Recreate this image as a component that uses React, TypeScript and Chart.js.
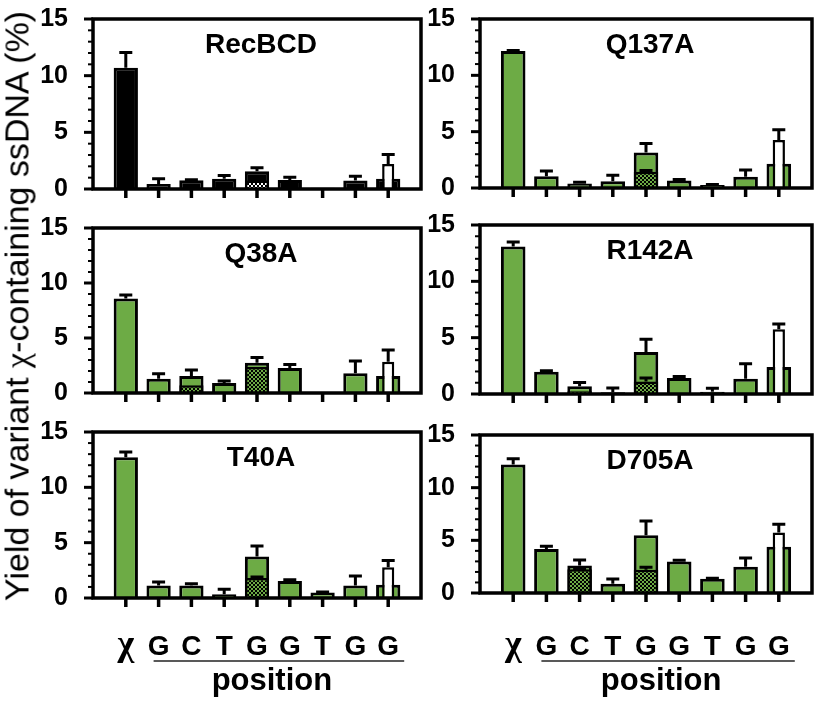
import React, { useEffect, useRef } from 'react';
import { Chart, registerables } from 'chart.js';

Chart.register(...registerables);

// ---------- data ----------
const positions = ['χ', 'G', 'C', 'T', 'G', 'G', 'T', 'G', 'G'];
const panelTitles = ['RecBCD', 'Q137A', 'Q38A', 'R142A', 'T40A', 'D705A'];
const yTicks = [0, 5, 10, 15];

const recbcdMean = [10.7, 0.45, 0.77, 0.9, 1.57, 0.8, 0.1, 0.74, 0.9];
const recbcdSD = [1.35, 0.45, 0.05, 0.3, 0.3, 0.24, 0, 0.39, null];
const recbcdChecker = [null, null, null, null, 0.75, null, null, null, null];
const recbcdCheckerSD = [null, null, null, null, 0, null, null, null, null];
const recbcdWhite = [null, null, null, null, null, null, null, null, 2.2];
const recbcdWhiteSD = [null, null, null, null, null, null, null, null, 0.85];

const q137aMean = [12.15, 1.05, 0.4, 0.6, 3.15, 0.66, 0.27, 1.0, 2.16];
const q137aSD = [0.05, 0.45, 0.1, 0.54, 0.81, 0.09, 0.03, 0.6, null];
const q137aChecker = [null, null, null, null, 1.44, null, null, null, null];
const q137aCheckerSD = [null, null, null, null, 0.12, null, null, null, null];
const q137aWhite = [null, null, null, null, null, null, null, null, 4.26];
const q137aWhiteSD = [null, null, null, null, null, null, null, null, 0.9];

const q38aMean = [8.6, 1.3, 1.54, 0.92, 2.74, 2.28, 0.1, 1.8, 1.54];
const q38aSD = [0.3, 0.45, 0.56, 0.16, 0.49, 0.32, 0, 1.1, null];
const q38aChecker = [null, null, 0.7, null, 2.37, null, null, null, null];
const q38aCheckerSD = [null, null, 0, null, 0, null, null, null, null];
const q38aWhite = [null, null, null, null, null, null, null, null, 2.83];
const q38aWhiteSD = [null, null, null, null, null, null, null, null, 1.07];

const r142aMean = [13.1, 1.98, 0.68, 0.15, 3.72, 1.42, 0.2, 1.36, 2.39];
const r142aSD = [0.4, 0.08, 0.35, 0.38, 1.15, 0.14, 0.3, 1.32, null];
const r142aChecker = [null, null, 0.25, null, 1.12, null, null, null, null];
const r142aCheckerSD = [null, null, 0, null, 0.3, null, null, null, null];
const r142aWhite = [null, null, null, null, null, null, null, null, 5.75];
const r142aWhiteSD = [null, null, null, null, null, null, null, null, 0.47];

const t40aMean = [12.72, 1.14, 1.14, 0.33, 3.74, 1.53, 0.5, 1.14, 1.2];
const t40aSD = [0.48, 0.3, 0.15, 0.45, 0.96, 0.12, 0.05, 0.84, null];
const t40aChecker = [null, null, null, null, 1.8, null, null, null, null];
const t40aCheckerSD = [null, null, null, null, 0.1, null, null, null, null];
const t40aWhite = [null, null, null, null, null, null, null, null, 2.78];
const t40aWhiteSD = [null, null, null, null, null, null, null, null, 0.6];

const d705aMean = [12.2, 4.17, 2.6, 0.88, 5.49, 2.98, 1.35, 2.5, 4.39];
const d705aSD = [0.55, 0.28, 0.53, 0.44, 1.34, 0.12, 0.05, 0.82, null];
const d705aChecker = [null, null, 2.26, null, 2.2, null, null, null, null];
const d705aCheckerSD = [null, null, 0.05, null, 0.25, null, null, null, null];
const d705aWhite = [null, null, null, null, null, null, null, null, 5.74];
const d705aWhiteSD = [null, null, null, null, null, null, null, null, 0.78];

// ---------- style ----------
const GREEN = '#6dab45';
const FONT = '"Liberation Sans", Arial, Helvetica, sans-serif';
const SERIF = '"Liberation Serif", "DejaVu Serif", serif';

const seriesByPanel = [
  [recbcdMean, recbcdSD, recbcdChecker, recbcdCheckerSD, recbcdWhite, recbcdWhiteSD],
  [q137aMean, q137aSD, q137aChecker, q137aCheckerSD, q137aWhite, q137aWhiteSD],
  [q38aMean, q38aSD, q38aChecker, q38aCheckerSD, q38aWhite, q38aWhiteSD],
  [r142aMean, r142aSD, r142aChecker, r142aCheckerSD, r142aWhite, r142aWhiteSD],
  [t40aMean, t40aSD, t40aChecker, t40aCheckerSD, t40aWhite, t40aWhiteSD],
  [d705aMean, d705aSD, d705aChecker, d705aCheckerSD, d705aWhite, d705aWhiteSD],
];

// layout: [axisX, rightX, top, bottom, yAxisWidth]
const panelBoxes = [
  [93, 421, 19, 189, 58],
  [480, 812, 19, 188, 52],
  [93, 421, 228, 393, 58],
  [480, 812, 225, 394, 52],
  [93, 421, 432, 598, 58],
  [480, 812, 435, 593, 52],
];
// page y of bottom texts: letters baseline, underline, "position" baseline
const LETTER_Y = 655;
const RULE_Y = 661;
const POSITION_Y = 690;

function makePattern(base: string, dot: string) {
  const c = document.createElement('canvas');
  c.width = 4;
  c.height = 4;
  const g = c.getContext('2d')!;
  g.fillStyle = base;
  g.fillRect(0, 0, 4, 4);
  g.fillStyle = dot;
  g.fillRect(0, 0, 2, 2);
  g.fillRect(2, 2, 2, 2);
  return g.createPattern(c, 'repeat');
}

const pad = (a: (number | null)[]) => [null, ...a, null];

const errorBarPlugin = {
  id: 'errbars',
  afterDatasetDraw(chart: any, args: any) {
    const ds = chart.data.datasets[args.index];
    const errs = ds.errors;
    if (!errs) return;
    const ys = chart.scales.y;
    const ctx = chart.ctx;
    ctx.save();
    ctx.strokeStyle = '#000';
    ctx.lineWidth = 3;
    ctx.lineCap = 'butt';
    args.meta.data.forEach((el: any, i: number) => {
      const v = ds.data[i];
      const e = errs[i];
      if (v == null || e == null || e <= 0) return;
      const top = ys.getPixelForValue(v + e);
      ctx.beginPath();
      ctx.moveTo(el.x, el.y);
      ctx.lineTo(el.x, top);
      ctx.moveTo(el.x - 6.5, top);
      ctx.lineTo(el.x + 6.5, top);
      ctx.stroke();
    });
    ctx.restore();
  },
};

const framePlugin = {
  id: 'frame',
  afterDraw(chart: any, _args: any, opts: any) {
    const ctx = chart.ctx;
    const a = chart.chartArea;
    const ys = chart.scales.y;
    const xs = chart.scales.x;
    ctx.save();
    ctx.strokeStyle = '#000';
    ctx.lineWidth = 3.5;
    ctx.strokeRect(a.left, a.top, a.right - a.left, a.bottom - a.top);
    // y ticks
    for (let v = 0; v <= 15; v += 1) {
      const y = ys.getPixelForValue(v);
      const major = yTicks.includes(v);
      ctx.lineWidth = major ? 3 : 2;
      ctx.beginPath();
      ctx.moveTo(a.left, y);
      ctx.lineTo(a.left - (major ? 9 : 5), y);
      ctx.stroke();
    }
    // x ticks
    ctx.lineWidth = 3.5;
    for (let i = 1; i <= positions.length; i++) {
      const x = xs.getPixelForValue(i);
      ctx.beginPath();
      ctx.moveTo(x, a.bottom);
      ctx.lineTo(x, a.bottom + 9);
      ctx.stroke();
    }
    // title
    ctx.fillStyle = '#000';
    ctx.font = `bold 28px ${FONT}`;
    ctx.textAlign = 'center';
    ctx.textBaseline = 'middle';
    ctx.fillText(opts.title, (a.left + a.right) / 2 + 4, a.top + 26);
    // x labels
    if (opts.showX) {
      const off = opts.canvasTop;
      ctx.textBaseline = 'alphabetic';
      for (let i = 1; i <= positions.length; i++) {
        const x = xs.getPixelForValue(i);
        const lab = positions[i - 1];
        ctx.font = lab === 'χ' ? `bold 36px ${SERIF}` : `bold 28px ${FONT}`;
        ctx.fillText(lab, x, LETTER_Y - off);
      }
      const x1 = xs.getPixelForValue(2) - 5;
      const x2 = xs.getPixelForValue(positions.length) + 16;
      ctx.lineWidth = 1.6;
      ctx.strokeStyle = '#222';
      ctx.beginPath();
      ctx.moveTo(x1, RULE_Y - off);
      ctx.lineTo(x2, RULE_Y - off);
      ctx.stroke();
      ctx.font = `bold 31px ${FONT}`;
      ctx.fillText('position', (x1 + x2) / 2 - 7, POSITION_Y - off);
    }
    ctx.restore();
  },
};

function Panel({ idx }: { idx: number }) {
  const ref = useRef<HTMLCanvasElement>(null);
  const [axisX, rightX, top, bottom, yW] = panelBoxes[idx];
  const showX = idx >= 4;
  const padTop = 34;
  const padR = 4;
  const plotH = bottom - top;
  const width = yW + (rightX - axisX) + padR;
  const canvasTop = top - padTop;
  const height = showX ? 702 - canvasTop : padTop + plotH + 34;
  const padBottom = height - padTop - plotH;

  useEffect(() => {
    const [mean, sd, chk, chkSD, white, whiteSD] = seriesByPanel[idx];
    const isBlack = idx === 0;
    const mainColor = isBlack ? '#000' : GREEN;
    const pattern = isBlack ? makePattern('#000', '#fff') : makePattern(GREEN, '#000');
    const chart = new Chart(ref.current!, {
      type: 'bar',
      data: {
        labels: ['', ...positions, ''],
        datasets: [
          {
            label: 'white',
            data: pad(white),
            errors: pad(whiteSD),
            backgroundColor: '#fff',
            borderColor: '#000',
            borderWidth: 2.5,
            barPercentage: 0.37,
            categoryPercentage: 1,
            grouped: false,
            order: 0,
          } as any,
          {
            label: 'checker',
            data: pad(chk),
            errors: pad(chkSD),
            backgroundColor: pattern,
            borderColor: '#000',
            borderWidth: 2.5,
            barPercentage: 0.74,
            categoryPercentage: 1,
            grouped: false,
            order: 1,
          } as any,
          {
            label: 'main',
            data: pad(mean),
            errors: pad(sd),
            backgroundColor: mainColor,
            borderColor: '#000',
            borderWidth: 3,
            barPercentage: 0.74,
            categoryPercentage: 1,
            grouped: false,
            order: 2,
          } as any,
        ],
      },
      options: {
        responsive: false,
        animation: false,
        events: [],
        layout: { padding: { top: padTop, right: padR, bottom: padBottom, left: 0 } },
        plugins: {
          legend: { display: false },
          tooltip: { enabled: false },
          frame: { title: panelTitles[idx], showX, canvasTop },
        } as any,
        scales: {
          x: { display: false, offset: false },
          y: {
            min: 0,
            max: 15,
            ticks: {
              stepSize: 5,
              color: '#000',
              padding: 17,
              font: { family: FONT, size: 25, weight: 'bold' },
            },
            grid: { display: false },
            border: { display: false },
            afterFit: (s: any) => {
              s.width = yW;
              s.paddingTop = 0;
              s.paddingBottom = 0;
            },
          },
        },
      } as any,
      plugins: [errorBarPlugin, framePlugin],
    });
    return () => chart.destroy();
  }, [idx]);

  return (
    <canvas
      ref={ref}
      width={width}
      height={height}
      style={{ position: 'absolute', left: axisX - yW, top: canvasTop, width, height }}
    />
  );
}

export default function App() {
  return (
    <div
      style={{
        position: 'absolute',
        left: 0,
        top: 0,
        width: 817,
        height: 703,
        overflow: 'hidden',
        background: '#fff',
      }}
    >
      {panelTitles.map((_, i) => (
        <Panel key={i} idx={i} />
      ))}
      <div
        style={{
          position: 'absolute',
          left: 17,
          top: 306,
          transform: 'translate(-50%, -50%) rotate(-90deg)',
          whiteSpace: 'nowrap',
          font: `34px ${FONT}`,
          color: '#000',
        }}
      >
        Yield of variant <span style={{ fontFamily: SERIF }}>χ</span>-containing ssDNA (%)
      </div>
    </div>
  );
}
